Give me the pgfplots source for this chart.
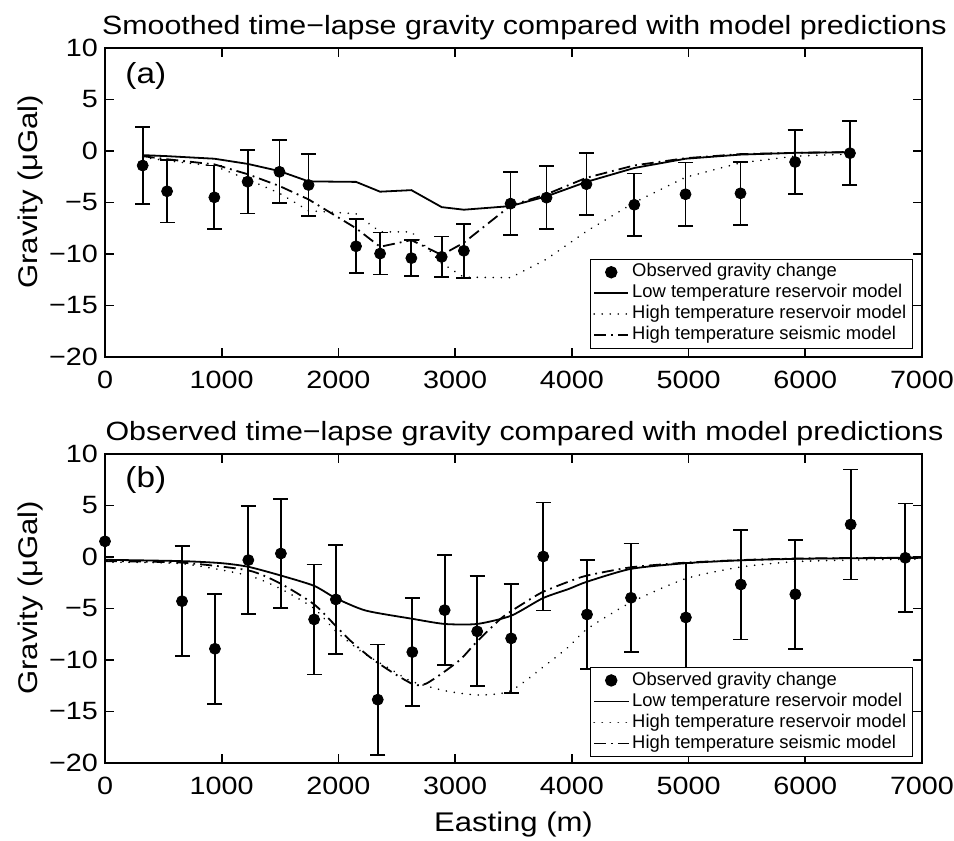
\documentclass[border=0pt]{standalone}
\usepackage{fontspec}
\setmainfont{Liberation Sans}
\newfontfamily\widefont{Liberation Sans}[FakeStretch=1.15]
\usepackage{pgfplots}
\usepackage{pgfplotstable}
\pgfplotsset{compat=1.18}

% observed gravity change: easting, value, error
\pgfplotstableread{
x y e
323 -1.41 3.74
532 -3.91 3.04
937 -4.50 3.10
1222 -2.98 3.08
1495 -2.02 3.06
1744 -3.30 3.00
2151 -9.25 2.62
2357 -9.96 2.04
2625 -10.40 1.77
2885 -10.28 1.98
3075 -9.69 2.61
3475 -5.11 3.07
3783 -4.53 3.07
4125 -3.22 3.03
4535 -5.22 3.03
4974 -4.20 3.08
5445 -4.11 3.04
5913 -1.07 3.07
6383 -0.21 3.09
}\topobs

% the station at 0 m has its bar on the frame, plotted apart below
\pgfplotstableread{
x y e
660 -4.29 5.32
942 -8.91 5.34
1228 -0.30 5.26
1507 0.34 5.27
1792 -6.06 5.34
1978 -4.12 5.32
2337 -13.85 5.35
2633 -9.23 5.27
2910 -5.16 5.32
3189 -7.22 5.34
3480 -7.90 5.29
3755 0.05 5.25
4130 -5.58 5.32
4507 -3.96 5.28
4977 -5.87 5.29
5448 -2.67 5.33
5915 -3.62 5.30
6389 3.16 5.34
6857 -0.08 5.27
}\botobs

\pgfplotsset{
  gpanel/.style={
    scale only axis,
    width=408.5pt, height=154.5pt,
    xmin=0, xmax=7000, ymin=-20, ymax=10,
    xtick={0,1000,...,7000},
    xticklabels={0,1000,2000,3000,4000,5000,6000,7000},
    ytick={-20,-15,...,10},
    yticklabels={−20,−15,−10,−5,0,5,10},
    tick align=inside,
    major tick length=4.5pt,
    minor tick num=0,
    axis line style={line width=0.8pt},
    every tick/.style={black, line width=0.8pt},
    ticklabel style={font=\widefont\fontsize{12.5}{14}\selectfont},
    xticklabel style={yshift=-3.5pt},
    title style={font=\widefont\fontsize{13.2}{15}\selectfont,
      at={(0.5,1)}, anchor=base, yshift=0.5pt, xshift=5.5pt},
    ylabel={Gravity (μGal)},
    ylabel style={font=\widefont\fontsize{13.5}{15}\selectfont,
      at={(axis description cs:-0.0832,0.535)}, anchor=base},
    clip=false,
    legend cell align=left,
    legend style={font=\fontsize{9.2}{10}\selectfont, draw=black,
      line width=0.7pt, fill=white, inner xsep=1.5pt, inner ysep=1.25pt,
      nodes={inner xsep=1.5pt, inner ysep=1pt, text height=6.6pt, text depth=1.9pt}},
  },
  obs/.style={only marks, mark=*, mark size=2.75pt, black,
    error bars/.cd, y dir=both, y explicit,
    error bar style={line width=0.9pt, black},
    error mark options={rotate=90, mark size=3.75pt, line width=0.9pt, black}},
  lowres/.style={black, line width=0.9pt},
  highres/.style={black, line width=0.9pt, line cap=round, dash pattern=on 0.01pt off 4pt},
  highseis/.style={black, line width=0.9pt, dash pattern=on 6pt off 2.5pt on 0.9pt off 2.5pt},
}

\begin{document}
\begin{tikzpicture}
\useasboundingbox (-52.5pt,-242pt) rectangle (424.5pt,178.5pt);

% (a) smoothed
\begin{axis}[gpanel, at={(0,0)}, anchor=south west,
  title={Smoothed time−lapse gravity compared with model predictions},
  legend style={at={(0.989,0.026)}, anchor=south east},
]
\addplot[obs] table[x=x, y=y, y error=e] {\topobs};
\addlegendentry{Observed gravity change}
\addplot[lowres] coordinates {
  (323,-0.40) (532,-0.50) (937,-0.75) (1222,-1.25) (1495,-1.95) (1744,-2.95)
  (2151,-3.00) (2357,-3.95) (2625,-3.80) (2885,-5.45) (3075,-5.70) (3475,-5.35)
  (3783,-4.40) (4125,-3.00) (4535,-1.65) (4974,-0.75) (5445,-0.35) (5913,-0.18)
  (6383,-0.12)
};
\addlegendentry{Low temperature reservoir model}
\addplot[highres] coordinates {
  (323,-0.60) (532,-0.95) (937,-1.45) (1222,-2.75) (1495,-4.10) (1744,-5.80)
  (2151,-6.10) (2357,-7.85) (2625,-7.85) (2885,-10.90) (3075,-12.25) (3475,-12.30)
  (3783,-10.50) (4125,-7.80) (4535,-5.00) (4974,-2.55) (5445,-1.15) (5913,-0.50)
  (6383,-0.30)
};
\addlegendentry{High temperature reservoir model}
\addplot[highseis] coordinates {
  (323,-0.50) (532,-0.80) (937,-1.30) (1222,-2.25) (1495,-3.40) (1744,-4.70)
  (2151,-7.50) (2357,-9.30) (2625,-8.65) (2885,-10.10) (3075,-8.90) (3475,-5.30)
  (3783,-4.20) (4125,-2.60) (4535,-1.40) (4974,-0.70) (5445,-0.30) (5913,-0.18)
  (6383,-0.10)
};
\addlegendentry{High temperature seismic model}
\node[anchor=base west, inner sep=0pt, font=\widefont\fontsize{14.5}{16}\selectfont]
  at (rel axis cs:0.0245,0.8835) {(a)};
\end{axis}

% (b) observed
\begin{axis}[gpanel, at={(0,-203pt)}, anchor=south west,
  title={Observed time−lapse gravity compared with model predictions},
  title style={yshift=0.5pt},
  xlabel={Easting (m)},
  xlabel style={font=\widefont\fontsize{13.5}{15}\selectfont,
    at={(axis description cs:0.5,0)}, anchor=base, yshift=-34pt},
  legend style={at={(0.989,0.019)}, anchor=south east},
]
\addplot[obs] table[x=x, y=y, y error=e] {\botobs};
\addlegendentry{Observed gravity change}
\addplot[lowres, smooth, tension=0.4] coordinates {
  (0,-0.27) (660,-0.40) (1000,-0.60) (1228,-0.95) (1507,-1.80) (1792,-2.80)
  (1978,-4.00) (2234,-5.20) (2633,-6.00) (2910,-6.50) (3189,-6.50) (3480,-5.70)
  (3751,-4.00) (3974,-3.10) (4130,-2.40) (4507,-1.15) (4977,-0.60) (5448,-0.32)
  (5915,-0.18) (6389,-0.12) (7000,-0.08)
};
\addlegendentry{Low temperature reservoir model}
\addplot[highres, smooth, tension=0.4] coordinates {
  (0,-0.50) (660,-0.65) (1228,-1.80) (1507,-3.10) (1792,-5.00) (1978,-7.20)
  (2205,-9.25) (2462,-11.00) (2633,-12.10) (2919,-13.00) (3204,-13.40) (3475,-13.00)
  (3774,-10.50) (3974,-8.70) (4130,-7.00) (4507,-4.40) (4977,-2.10) (5448,-0.97)
  (5915,-0.45) (6389,-0.30) (7000,-0.20)
};
\addlegendentry{High temperature reservoir model}
\addplot[highseis, smooth, tension=0.4] coordinates {
  (0,-0.40) (660,-0.55) (1228,-1.30) (1507,-2.60) (1792,-4.60) (1978,-6.70)
  (2100,-8.10) (2290,-9.90) (2490,-11.40) (2650,-12.40) (2750,-12.30) (2900,-11.20)
  (3050,-9.90) (3180,-8.30) (3400,-5.90) (3600,-4.40) (3750,-3.40) (3970,-2.40)
  (4130,-1.80) (4507,-1.00) (4977,-0.55) (5448,-0.30) (5915,-0.15) (6389,-0.10)
  (7000,-0.05)
};
\addlegendentry{High temperature seismic model}
\addplot[only marks, mark=*, mark size=2.75pt, black, forget plot] coordinates {(0,1.52)};
\node[anchor=base west, inner sep=0pt, font=\widefont\fontsize{14.5}{16}\selectfont]
  at (rel axis cs:0.0245,0.89) {(b)};
\end{axis}
\end{tikzpicture}
\end{document}
